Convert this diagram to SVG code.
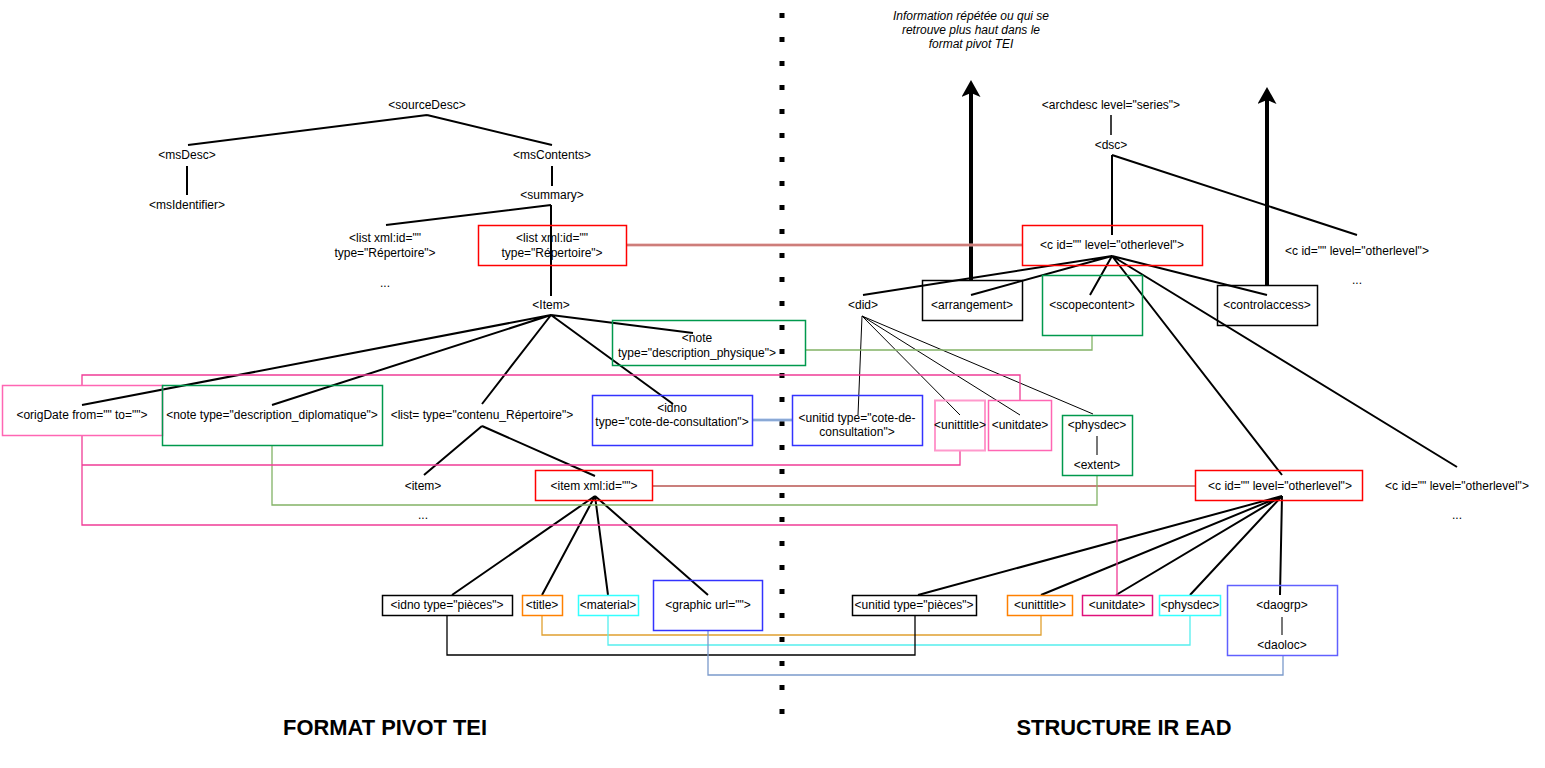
<svg xmlns="http://www.w3.org/2000/svg" width="1545" height="768" viewBox="0 0 1545 768">
<style>
text{font-family:"Liberation Sans",Arial,Helvetica,sans-serif;font-size:12px;text-anchor:middle;dominant-baseline:central;fill:#000}
.it{font-style:italic;font-size:12px}
.ti{font-weight:bold;font-size:21.5px}
.tr{stroke:#000;stroke-width:2;fill:none}
.th{stroke:#000;stroke-width:1;fill:none}
.b{fill:none;stroke-width:1.5}
.c{fill:none;stroke-width:1.3}
</style>
<defs>
<marker id="ah" markerUnits="userSpaceOnUse" markerWidth="20" markerHeight="20" refX="4" refY="9.5" orient="auto">
<path d="M0,0 L17,9.5 L0,19 L4,9.5 Z" fill="#000"/>
</marker>
</defs>
<rect width="1545" height="768" fill="#fff"/>
<g id="divider">
<line x1="782" y1="13" x2="782" y2="716" stroke="#000" stroke-width="5" stroke-dasharray="5 19"/>
</g>
<g id="connectors">
<path class="tr" d="M427,115 L188,145 M427,115 L552,145 M187,166 L187,195 M552,166 L552,186 M551,205 L386,225 M551,205 L551,296"/>
<path class="tr" d="M551,315 L82,405 M551,315 L272,405 M551,315 L482,404 M551,315 L673,404 M551,315 L693,333"/>
<path class="tr" d="M482,426 L424,475 M482,426 L595,476"/>
<path class="tr" d="M595,496 L452,595 M595,496 L542,595 M595,496 L608,595 M595,496 L708,595"/>
<path d="M1111,115 L1111,135" stroke="#000" stroke-width="1.5"/>
<path class="tr" d="M1112,155 L1112,235 M1112,155 L1357,235"/>
<path class="tr" d="M1112,256 L863,295 M1112,256 L971,295 M1112,256 L1090,295 M1112,256 L1267,295 M1112,256 L1282,475 M1112,256 L1457,467"/>
<path class="tr" d="M1282,496 L918,595 M1282,496 L1041,595 M1282,496 L1116,595 M1282,496 L1190,595 M1282,496 L1280,595"/>
<path class="th" d="M862,316 L858,415 M862,316 L960,415 M862,316 L1020,415"/>
<path d="M862,316 L1093,414" stroke="#000" stroke-width="1"/>
<path d="M1097,436 L1097,455 M1282,617 L1282,635" stroke="#777" stroke-width="2"/>
<path d="M971,280 L971,93" stroke="#000" stroke-width="4" marker-end="url(#ah)"/>
<path d="M1267,285 L1267,100" stroke="#000" stroke-width="4" marker-end="url(#ah)"/>
<path d="M627,245 L1022,245" stroke="#e3a6a4" stroke-width="3"/>
<path d="M627,245 L1022,245" stroke="#b85450" stroke-width="1"/>
<path class="c" d="M652,486 L1196,486" stroke="#b85450"/>
<path d="M752,420 L793,420" stroke="#a9c4eb" stroke-width="3"/>
<path d="M752,420 L793,420" stroke="#6c8ebf" stroke-width="1"/>
<path class="c" d="M805,350 L1092,350 L1092,335" stroke="#82b366"/>
<path class="c" d="M272,445 L272,505 L1097,505 L1097,475" stroke="#82b366"/>
<path class="c" d="M82,385 L82,375 L1020,375 L1020,400" stroke="#f03c96"/>
<path class="c" d="M82,435 L82,525 L1117,525 L1117,595" stroke="#f03c96"/>
<path class="c" d="M82,465 L960,465 L960,450" stroke="#f03c96"/>
<path class="c" d="M542,615 L542,635 L1041,635 L1041,615" stroke="#e0a030"/>
<path class="c" d="M608,615 L608,645 L1190,645 L1190,615" stroke="#55eeee"/>
<path class="c" d="M447,615 L447,655 L915,655 L915,615" stroke="#000"/>
<path class="c" d="M708,630 L708,675 L1283,675 L1283,655" stroke="#7b9acb"/>
</g>
<g id="n-sourceDesc"><text x="427" y="105">&lt;sourceDesc&gt;</text></g>
<g id="n-msDesc"><text x="187" y="155">&lt;msDesc&gt;</text></g>
<g id="n-msIdentifier"><text x="187" y="205">&lt;msIdentifier&gt;</text></g>
<g id="n-msContents"><text x="552" y="155">&lt;msContents&gt;</text></g>
<g id="n-summary"><text x="552" y="195">&lt;summary&gt;</text></g>
<g id="n-list-left"><text x="385" y="238">&lt;list xml:id=""</text><text x="385" y="253">type="Répertoire"&gt;</text><text x="385" y="283">...</text></g>
<g id="n-list-red"><rect class="b" x="478.5" y="225.5" width="148" height="40" stroke="#ff0000"/><text x="552" y="238">&lt;list xml:id=""</text><text x="552" y="253">type="Répertoire"&gt;</text></g>
<g id="n-Item"><text x="551" y="305">&lt;Item&gt;</text></g>
<g id="n-note-phys"><rect class="b" x="612.5" y="320.5" width="193" height="45" stroke="#00994d"/><text x="697" y="338">&lt;note</text><text x="697" y="353">type="description_physique"&gt;</text></g>
<g id="n-origDate"><rect class="b" x="2.5" y="385.5" width="160" height="50" stroke="#ff66b3"/><text x="82" y="415">&lt;origDate from="" to=""&gt;</text></g>
<g id="n-note-dipl"><rect class="b" x="162.5" y="385.5" width="220" height="60" stroke="#00994d"/><text x="272" y="415">&lt;note type="description_diplomatique"&gt;</text></g>
<g id="n-list-contenu"><text x="482" y="415">&lt;list= type="contenu_Répertoire"&gt;</text></g>
<g id="n-idno-cote"><rect class="b" x="592.5" y="395.5" width="160" height="50" stroke="#3333ff"/><text x="672" y="408">&lt;idno</text><text x="672" y="422">type="cote-de-consultation"&gt;</text></g>
<g id="n-item"><text x="423" y="486">&lt;item&gt;</text><text x="423" y="515">...</text></g>
<g id="n-item-xml"><rect class="b" x="535.5" y="470.5" width="117" height="30" stroke="#ff0000"/><text x="594" y="486">&lt;item xml:id=""&gt;</text></g>
<g id="n-idno-pieces"><rect class="b" x="382.5" y="595.5" width="130" height="20" stroke="#000"/><text x="447" y="605">&lt;idno type="pièces"&gt;</text></g>
<g id="n-title"><rect class="b" x="522.5" y="595.5" width="40" height="20" stroke="#ff8000"/><text x="542" y="605">&lt;title&gt;</text></g>
<g id="n-material"><rect class="b" x="578.5" y="595.5" width="60" height="20" stroke="#33ffff"/><text x="608" y="605">&lt;material&gt;</text></g>
<g id="n-graphic"><rect class="b" x="653.5" y="580.5" width="109" height="50" stroke="#3333ff"/><text x="708" y="605">&lt;graphic url=""&gt;</text></g>
<g id="n-note-italic"><text class="it" x="971" y="16">Information répétée ou qui se</text><text class="it" x="971" y="30">retrouve plus haut dans le</text><text class="it" x="971" y="44">format pivot TEI</text></g>
<g id="n-archdesc"><text x="1111" y="105">&lt;archdesc level="series"&gt;</text></g>
<g id="n-dsc"><text x="1111" y="145">&lt;dsc&gt;</text></g>
<g id="n-c-top"><rect class="b" x="1022.5" y="225.5" width="180" height="40" stroke="#ff0000"/><text x="1112" y="245">&lt;c id="" level="otherlevel"&gt;</text></g>
<g id="n-c-right"><text x="1357" y="251">&lt;c id="" level="otherlevel"&gt;</text><text x="1357" y="280">...</text></g>
<g id="n-did"><text x="863" y="305">&lt;did&gt;</text></g>
<g id="n-arrangement"><rect class="b" x="922.5" y="280.5" width="100" height="40" stroke="#000"/><text x="972" y="305">&lt;arrangement&gt;</text></g>
<g id="n-scopecontent"><rect class="b" x="1042.5" y="275.5" width="100" height="60" stroke="#00994d"/><text x="1092" y="305">&lt;scopecontent&gt;</text></g>
<g id="n-controlaccess"><rect class="b" x="1217.5" y="285.5" width="100" height="40" stroke="#000"/><text x="1267" y="305">&lt;controlaccess&gt;</text></g>
<g id="n-unitid-cote"><rect class="b" x="792.5" y="395.5" width="130" height="50" stroke="#3333ff"/><text x="857" y="418">&lt;unitid type="cote-de-</text><text x="857" y="432">consultation"&gt;</text></g>
<g id="n-unittitle"><rect x="935" y="400.5" width="50" height="50" fill="none" stroke="#ff99cc" stroke-width="2"/><text x="960" y="425">&lt;unittitle&gt;</text></g>
<g id="n-unitdate"><rect class="b" x="988.5" y="400.5" width="63" height="50" stroke="#ff66b3"/><text x="1020" y="425">&lt;unitdate&gt;</text></g>
<g id="n-physdec"><rect class="b" x="1062.5" y="415.5" width="70" height="60" stroke="#00994d"/><text x="1097" y="425">&lt;physdec&gt;</text><text x="1097" y="465">&lt;extent&gt;</text></g>
<g id="n-c-low"><rect class="b" x="1195.5" y="470.5" width="167" height="30" stroke="#ff0000"/><text x="1280" y="486">&lt;c id="" level="otherlevel"&gt;</text></g>
<g id="n-c-low-right"><text x="1457" y="486">&lt;c id="" level="otherlevel"&gt;</text><text x="1457" y="515">...</text></g>
<g id="n-unitid-pieces"><rect class="b" x="852.5" y="595.5" width="124" height="20" stroke="#000"/><text x="914" y="605">&lt;unitid type="pièces"&gt;</text></g>
<g id="n-unittitle-low"><rect class="b" x="1007.5" y="595.5" width="65" height="20" stroke="#ff8000"/><text x="1040" y="605">&lt;unittitle&gt;</text></g>
<g id="n-unitdate-low"><rect class="b" x="1082.5" y="595.5" width="70" height="20" stroke="#e0107a"/><text x="1117" y="605">&lt;unitdate&gt;</text></g>
<g id="n-physdec-low"><rect class="b" x="1159.5" y="595.5" width="61" height="20" stroke="#33ffff"/><text x="1190" y="605">&lt;physdec&gt;</text></g>
<g id="n-daogrp"><rect class="b" x="1227.5" y="585.5" width="110" height="70" stroke="#6060ff"/><text x="1282" y="605">&lt;daogrp&gt;</text><text x="1282" y="645">&lt;daoloc&gt;</text></g>
<g id="titles"><text class="ti" x="385" y="728" textLength="204" lengthAdjust="spacingAndGlyphs">FORMAT PIVOT TEI</text><text class="ti" x="1124" y="728" textLength="215" lengthAdjust="spacingAndGlyphs">STRUCTURE IR EAD</text></g>
</svg>
